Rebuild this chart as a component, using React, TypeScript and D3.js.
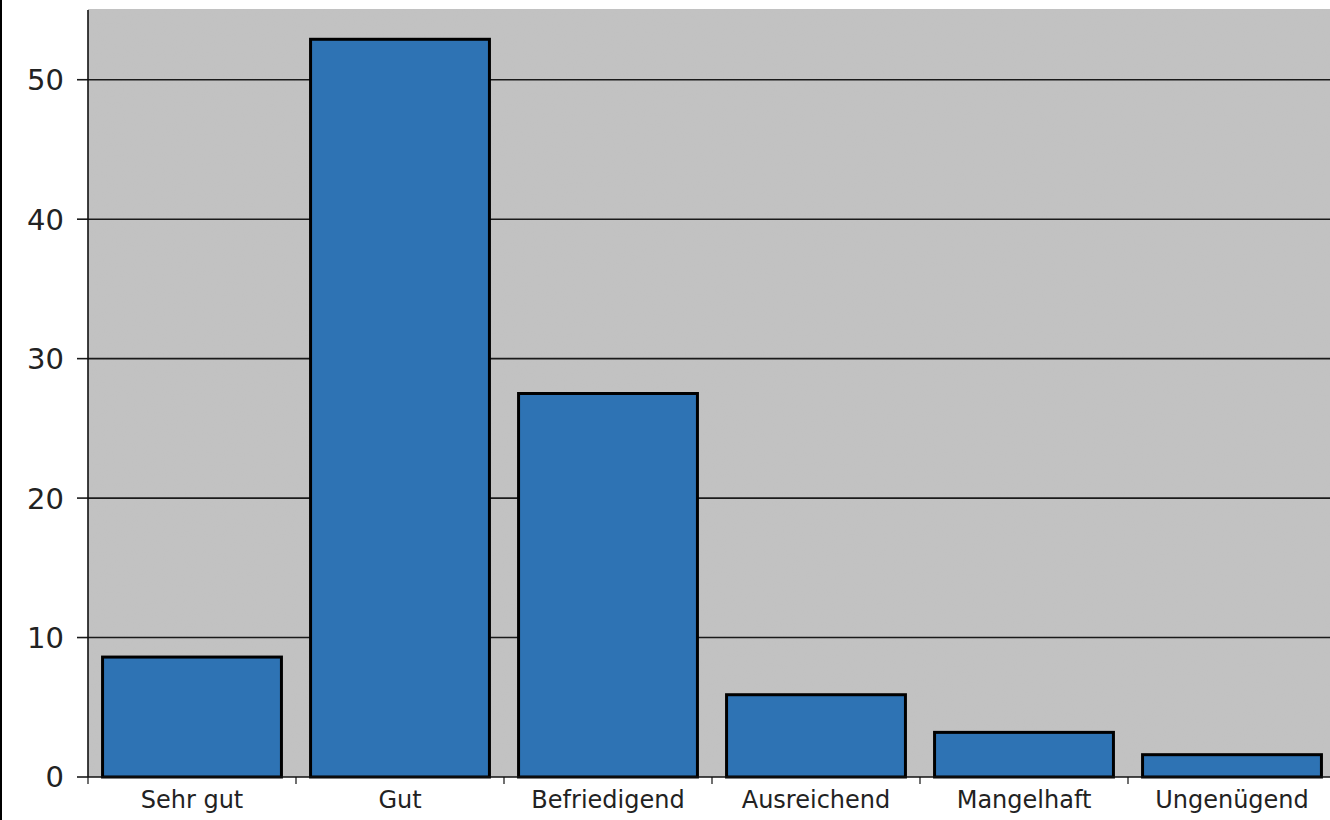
import React from "react";
import * as d3 from "d3";

const categories = ["Sehr gut", "Gut", "Befriedigend", "Ausreichend", "Mangelhaft", "Ungenügend"];
const values = [8.6, 52.9, 27.5, 5.9, 3.2, 1.6];
const yTicks = [0, 10, 20, 30, 40, 50];

const W = 1330;
const H = 820;
const left = 88;
const right = 1336;
const top = 9;
const bottom = 777;

export default function App() {
  const x = d3.scaleBand<string>().domain(categories).range([left, right]).paddingInner(0.14).paddingOuter(0.07);
  const y = d3.scaleLinear().domain([0, 55]).range([bottom, top + 1]);
  const step = x.step();
  const font = "'DejaVu Sans', Verdana, sans-serif";

  return (
    <svg width={W} height={H} style={{ position: "absolute", left: 0, top: 0, background: "#fff" }}>
      <defs>
        <filter id="noise" x="0" y="0" width="100%" height="100%">
          <feTurbulence type="fractalNoise" baseFrequency="0.9" numOctaves="2" seed="3" result="t" />
          <feColorMatrix type="matrix" values="0 0 0 0 0.5  0 0 0 0 0.5  0 0 0 0 0.5  0 0 0 0.12 0" />
        </filter>
      </defs>
      <line x1={1} x2={1} y1={0} y2={H} stroke="#000" strokeWidth={2} />
      <rect x={left} y={top} width={right - left} height={bottom - top} fill="#c2c2c2" />
      <rect x={left} y={top} width={right - left} height={bottom - top} filter="url(#noise)" />
      {yTicks.map((t) => (
        <g key={t}>
          {t > 0 && <line x1={left} x2={right} y1={y(t)} y2={y(t)} stroke="#1a1a1a" strokeWidth={1.6} />}
          <line x1={77} x2={left} y1={y(t)} y2={y(t)} stroke="#1a1a1a" strokeWidth={1.6} />
          <text x={64} y={y(t)} dy="0.36em" textAnchor="end" fontFamily={font} fontSize={29} fill="#222">
            {t}
          </text>
        </g>
      ))}
      {categories.map((c, i) => (
        <rect
          key={c}
          x={x(c)}
          y={y(values[i])}
          width={x.bandwidth()}
          height={bottom - y(values[i])}
          fill="#2e73b4"
          stroke="#000"
          strokeWidth={3}
        />
      ))}
      <line x1={left} x2={left} y1={top + 1} y2={bottom} stroke="#111" strokeWidth={1.6} />
      <line x1={left} x2={right} y1={bottom} y2={bottom} stroke="#111" strokeWidth={1.6} />
      {d3.range(categories.length + 1).map((i) => (
        <line key={i} x1={left + i * step} x2={left + i * step} y1={bottom} y2={bottom + 7} stroke="#111" strokeWidth={1.2} />
      ))}
      {categories.map((c) => (
        <text key={c} x={(x(c) as number) + x.bandwidth() / 2} y={808} textAnchor="middle" fontFamily={font} fontSize={24} fill="#222">
          {c}
        </text>
      ))}
    </svg>
  );
}
